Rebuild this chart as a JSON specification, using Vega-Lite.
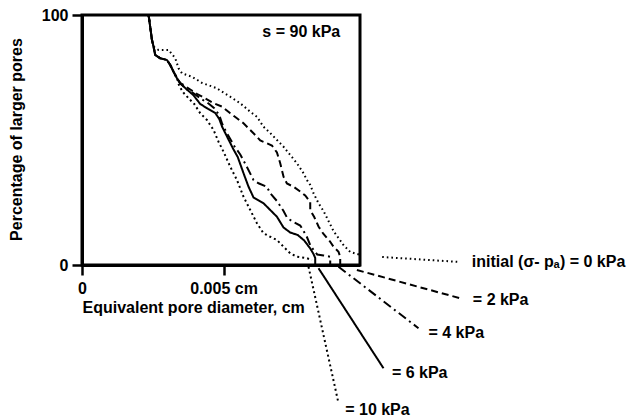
{
  "$schema": "https://vega.github.io/schema/vega-lite/v6.json",
  "autosize": {"type": "none"},
  "padding": {"left": 82, "top": 15, "right": 279, "bottom": 154},
  "width": 278,
  "height": 250,
  "background": "white",
  "config": {
    "font": "Liberation Sans",
    "view": {"stroke": "black", "strokeWidth": 3},
    "axis": {
      "grid": false,
      "domainColor": "black", "domainWidth": 3,
      "tickColor": "black", "tickWidth": 2.5, "tickSize": 10,
      "labelColor": "black", "labelFont": "Liberation Sans", "labelFontSize": 16, "labelFontWeight": "bold",
      "titleColor": "black", "titleFont": "Liberation Sans", "titleFontSize": 16, "titleFontWeight": "bold"
    }
  },
  "datasets": {
    "curves": [
      {"k":"0","p":"c","x":0.002352,"y":100},{"k":"0","p":"c","x":0.002472,"y":90},{"k":"0","p":"c","x":0.002528,"y":87.3},{"k":"0","p":"c","x":0.002705,"y":86},{"k":"0","p":"c","x":0.003058,"y":86},{"k":"0","p":"c","x":0.003294,"y":82.7},{"k":"0","p":"c","x":0.003411,"y":78.7},{"k":"0","p":"c","x":0.003531,"y":76.7},{"k":"0","p":"c","x":0.003884,"y":75.3},{"k":"0","p":"c","x":0.004248,"y":72.8},{"k":"0","p":"c","x":0.004742,"y":70.8},{"k":"0","p":"c","x":0.005237,"y":67.3},{"k":"0","p":"c","x":0.00559,"y":64.7},{"k":"0","p":"c","x":0.005943,"y":61.3},{"k":"0","p":"c","x":0.006179,"y":59.3},{"k":"0","p":"c","x":0.006412,"y":55.3},{"k":"0","p":"c","x":0.006649,"y":52.8},{"k":"0","p":"c","x":0.006886,"y":50},{"k":"0","p":"c","x":0.007119,"y":47.3},{"k":"0","p":"c","x":0.007355,"y":44},{"k":"0","p":"c","x":0.007592,"y":40.7},{"k":"0","p":"c","x":0.007825,"y":36.7},{"k":"0","p":"c","x":0.007945,"y":34},{"k":"0","p":"c","x":0.008062,"y":32},{"k":"0","p":"c","x":0.008178,"y":28.7},{"k":"0","p":"c","x":0.008355,"y":24.7},{"k":"0","p":"c","x":0.008531,"y":21.6},{"k":"0","p":"c","x":0.008708,"y":17.6},{"k":"0","p":"c","x":0.008884,"y":13.6},{"k":"0","p":"c","x":0.009061,"y":10.8},{"k":"0","p":"c","x":0.009237,"y":8},{"k":"0","p":"c","x":0.009474,"y":5.2},{"k":"0","p":"c","x":0.00981,"y":4.1},
      {"k":"0","p":"l","x":0.010604,"y":3.2},{"k":"0","p":"l","x":0.013358,"y":1.2},

      {"k":"10","p":"c","x":0.002352,"y":100},{"k":"10","p":"c","x":0.002472,"y":90},{"k":"10","p":"c","x":0.002528,"y":87.3},{"k":"10","p":"c","x":0.002588,"y":84},{"k":"10","p":"c","x":0.002765,"y":82.7},{"k":"10","p":"c","x":0.003001,"y":82},{"k":"10","p":"c","x":0.003118,"y":80},{"k":"10","p":"c","x":0.003234,"y":77.3},{"k":"10","p":"c","x":0.003355,"y":74.7},
      {"k":"10","p":"c","x":0.003436,"y":71.6},{"k":"10","p":"c","x":0.003577,"y":69},{"k":"10","p":"c","x":0.003764,"y":66.7},{"k":"10","p":"c","x":0.003965,"y":64.4},{"k":"10","p":"c","x":0.004177,"y":60.7},{"k":"10","p":"c","x":0.004414,"y":58},{"k":"10","p":"c","x":0.004647,"y":54},{"k":"10","p":"c","x":0.004823,"y":49.3},{"k":"10","p":"c","x":0.005,"y":45.3},{"k":"10","p":"c","x":0.005237,"y":39.3},{"k":"10","p":"c","x":0.005473,"y":34},{"k":"10","p":"c","x":0.005706,"y":27.3},{"k":"10","p":"c","x":0.005943,"y":22},{"k":"10","p":"c","x":0.006179,"y":16.7},{"k":"10","p":"c","x":0.006412,"y":12.7},{"k":"10","p":"c","x":0.006649,"y":11.3},{"k":"10","p":"c","x":0.006886,"y":10},{"k":"10","p":"c","x":0.007119,"y":7.3},{"k":"10","p":"c","x":0.007355,"y":4.7},{"k":"10","p":"c","x":0.007592,"y":3.3},{"k":"10","p":"c","x":0.007945,"y":2.7},{"k":"10","p":"c","x":0.008121,"y":2},
      {"k":"10","p":"l","x":0.008001,"y":-0.7},{"k":"10","p":"l","x":0.009061,"y":-55.3},

      {"k":"6","p":"c","x":0.002352,"y":100},{"k":"6","p":"c","x":0.002472,"y":90},{"k":"6","p":"c","x":0.002528,"y":87.3},{"k":"6","p":"c","x":0.002588,"y":84},{"k":"6","p":"c","x":0.002765,"y":82.7},{"k":"6","p":"c","x":0.003001,"y":82},{"k":"6","p":"c","x":0.003118,"y":80},{"k":"6","p":"c","x":0.003234,"y":77.3},{"k":"6","p":"c","x":0.003355,"y":74.7},{"k":"6","p":"c","x":0.003471,"y":72.7},
      {"k":"6","p":"c","x":0.003683,"y":70.4},{"k":"6","p":"c","x":0.00393,"y":68},{"k":"6","p":"c","x":0.004177,"y":64.4},{"k":"6","p":"c","x":0.00446,"y":62.4},{"k":"6","p":"c","x":0.004707,"y":60.8},{"k":"6","p":"c","x":0.004848,"y":58.4},{"k":"6","p":"c","x":0.004954,"y":55.2},{"k":"6","p":"c","x":0.005166,"y":50.4},{"k":"6","p":"c","x":0.005343,"y":46.4},{"k":"6","p":"c","x":0.005501,"y":43.2},{"k":"6","p":"c","x":0.005706,"y":36.7},{"k":"6","p":"c","x":0.005883,"y":31.3},{"k":"6","p":"c","x":0.006059,"y":27},{"k":"6","p":"c","x":0.006412,"y":24.7},{"k":"6","p":"c","x":0.006649,"y":22},{"k":"6","p":"c","x":0.006886,"y":19.3},{"k":"6","p":"c","x":0.007119,"y":15},{"k":"6","p":"c","x":0.007355,"y":13},{"k":"6","p":"c","x":0.00762,"y":12},{"k":"6","p":"c","x":0.00785,"y":9.8},{"k":"6","p":"c","x":0.008062,"y":6.6},{"k":"6","p":"c","x":0.008178,"y":4.4},{"k":"6","p":"c","x":0.008238,"y":2.8},{"k":"6","p":"c","x":0.008238,"y":0},
      {"k":"6","p":"l","x":0.008355,"y":-1.3},{"k":"6","p":"l","x":0.01065,"y":-41.3},

      {"k":"4","p":"c","x":0.002352,"y":100},{"k":"4","p":"c","x":0.002472,"y":90},{"k":"4","p":"c","x":0.002528,"y":87.3},{"k":"4","p":"c","x":0.002588,"y":84},{"k":"4","p":"c","x":0.002765,"y":82.7},{"k":"4","p":"c","x":0.003001,"y":82},{"k":"4","p":"c","x":0.003118,"y":80},{"k":"4","p":"c","x":0.003234,"y":77.3},{"k":"4","p":"c","x":0.003355,"y":74.7},{"k":"4","p":"c","x":0.003471,"y":72.7},
      {"k":"4","p":"c","x":0.003648,"y":70.7},{"k":"4","p":"c","x":0.003941,"y":68.7},{"k":"4","p":"c","x":0.004213,"y":66.4},{"k":"4","p":"c","x":0.00447,"y":64.6},{"k":"4","p":"c","x":0.004672,"y":62.7},{"k":"4","p":"c","x":0.004848,"y":60},{"k":"4","p":"c","x":0.004954,"y":56.4},{"k":"4","p":"c","x":0.005095,"y":53.2},{"k":"4","p":"c","x":0.005237,"y":50.4},{"k":"4","p":"c","x":0.005378,"y":47.6},{"k":"4","p":"c","x":0.00559,"y":44.2},{"k":"4","p":"c","x":0.005826,"y":39.2},{"k":"4","p":"c","x":0.006059,"y":34},{"k":"4","p":"c","x":0.006236,"y":32.7},{"k":"4","p":"c","x":0.006532,"y":31.3},{"k":"4","p":"c","x":0.006649,"y":28.7},{"k":"4","p":"c","x":0.006886,"y":25.6},{"k":"4","p":"c","x":0.007119,"y":21.6},{"k":"4","p":"c","x":0.007249,"y":18.8},{"k":"4","p":"c","x":0.007472,"y":17.2},{"k":"4","p":"c","x":0.007708,"y":15.8},{"k":"4","p":"c","x":0.007825,"y":13.6},{"k":"4","p":"c","x":0.007945,"y":11.2},{"k":"4","p":"c","x":0.008062,"y":8},{"k":"4","p":"c","x":0.008178,"y":6},{"k":"4","p":"c","x":0.008309,"y":4.2},{"k":"4","p":"c","x":0.008531,"y":3.8},{"k":"4","p":"c","x":0.008768,"y":3.3},{"k":"4","p":"c","x":0.008768,"y":0},
      {"k":"4","p":"l","x":0.009061,"y":-0.7},{"k":"4","p":"l","x":0.011886,"y":-25.3},

      {"k":"2","p":"c","x":0.002352,"y":100},{"k":"2","p":"c","x":0.002472,"y":90},{"k":"2","p":"c","x":0.002528,"y":87.3},{"k":"2","p":"c","x":0.002588,"y":84},{"k":"2","p":"c","x":0.002765,"y":82.7},{"k":"2","p":"c","x":0.003001,"y":82},{"k":"2","p":"c","x":0.003118,"y":80},{"k":"2","p":"c","x":0.003234,"y":77.3},{"k":"2","p":"c","x":0.003355,"y":74.7},{"k":"2","p":"c","x":0.003471,"y":72.7},
      {"k":"2","p":"c","x":0.003588,"y":72},{"k":"2","p":"c","x":0.003824,"y":70.2},{"k":"2","p":"c","x":0.004071,"y":68.4},{"k":"2","p":"c","x":0.004294,"y":67},{"k":"2","p":"c","x":0.004647,"y":64.7},{"k":"2","p":"c","x":0.004954,"y":63.3},{"k":"2","p":"c","x":0.005237,"y":60.7},{"k":"2","p":"c","x":0.005473,"y":58.7},{"k":"2","p":"c","x":0.005706,"y":56.7},{"k":"2","p":"c","x":0.005943,"y":54},{"k":"2","p":"c","x":0.006119,"y":52},{"k":"2","p":"c","x":0.006296,"y":49.8},{"k":"2","p":"c","x":0.006532,"y":48.7},{"k":"2","p":"c","x":0.006709,"y":47.8},{"k":"2","p":"c","x":0.006886,"y":45},{"k":"2","p":"c","x":0.007002,"y":40.7},{"k":"2","p":"c","x":0.007119,"y":35.3},{"k":"2","p":"c","x":0.007239,"y":32.6},{"k":"2","p":"c","x":0.007472,"y":31.3},{"k":"2","p":"c","x":0.007708,"y":29.4},{"k":"2","p":"c","x":0.007885,"y":27.8},{"k":"2","p":"c","x":0.008062,"y":25.2},{"k":"2","p":"c","x":0.008062,"y":22},{"k":"2","p":"c","x":0.008203,"y":19.2},{"k":"2","p":"c","x":0.008355,"y":15.4},{"k":"2","p":"c","x":0.008531,"y":12.4},{"k":"2","p":"c","x":0.008768,"y":9.3},{"k":"2","p":"c","x":0.008884,"y":7.3},{"k":"2","p":"c","x":0.009061,"y":5.3},{"k":"2","p":"c","x":0.009121,"y":3.3},{"k":"2","p":"c","x":0.009121,"y":0},
      {"k":"2","p":"l","x":0.00971,"y":-2},{"k":"2","p":"l","x":0.013358,"y":-13.3}
    ],
    "labels": [
      {"t":"initial (σ- pₐ) = 0 kPa","x":0.01377,"y":1.3},
      {"t":"= 2 kPa","x":0.013806,"y":-14},
      {"t":"= 4 kPa","x":0.012239,"y":-27.1},
      {"t":"= 6 kPa","x":0.010946,"y":-43.1},
      {"t":"= 10 kPa","x":0.009297,"y":-58}
    ],
    "note": [
      {"t":"s = 90 kPa","x":0.009121,"y":93.2}
    ]
  },
  "layer": [
    {
      "data": {"name": "curves"},
      "mark": {"type": "line", "strokeWidth": 2, "color": "black", "clip": false},
      "encoding": {
        "x": {"field": "x", "type": "quantitative",
              "scale": {"domain": [0, 0.00982], "nice": false, "zero": false},
              "axis": {"values": [0, 0.005], "labelExpr": "datum.value == 0 ? '0' : '0.005 cm'",
                       "labelPadding": 5, "labelFlush": false,
                       "title": "Equivalent pore diameter, cm", "titleAnchor": "start", "titleAlign": "left", "titlePadding": 3}},
        "y": {"field": "y", "type": "quantitative",
              "scale": {"domain": [0, 100], "nice": false},
              "axis": {"values": [0, 100], "labelExpr": "datum.value == 0 ? '0\u00a0\u00a0' : '100'",
                       "labelPadding": 4, "labelFlush": false,
                       "title": "Percentage of larger pores", "titleX": -58, "titleY": 124}},
        "detail": {"field": "p"},
        "strokeDash": {"field": "k", "type": "nominal",
                       "scale": {"domain": ["0", "2", "4", "6", "10"],
                                 "range": [[1.6, 3], [7, 4], [9, 4, 2, 4], [1, 0], [2, 3]]},
                       "legend": null},
        "order": [{"field": "y", "sort": "descending"}, {"field": "x", "sort": "ascending"}]
      }
    },
    {
      "data": {"name": "labels"},
      "mark": {"type": "text", "align": "left", "baseline": "middle", "fontSize": 16, "fontWeight": "bold", "color": "black", "font": "Liberation Sans"},
      "encoding": {
        "x": {"field": "x", "type": "quantitative"},
        "y": {"field": "y", "type": "quantitative"},
        "text": {"field": "t"}
      }
    },
    {
      "data": {"name": "note"},
      "mark": {"type": "text", "align": "right", "baseline": "middle", "fontSize": 16, "fontWeight": "bold", "color": "black", "font": "Liberation Sans"},
      "encoding": {
        "x": {"field": "x", "type": "quantitative"},
        "y": {"field": "y", "type": "quantitative"},
        "text": {"field": "t"}
      }
    }
  ]
}
